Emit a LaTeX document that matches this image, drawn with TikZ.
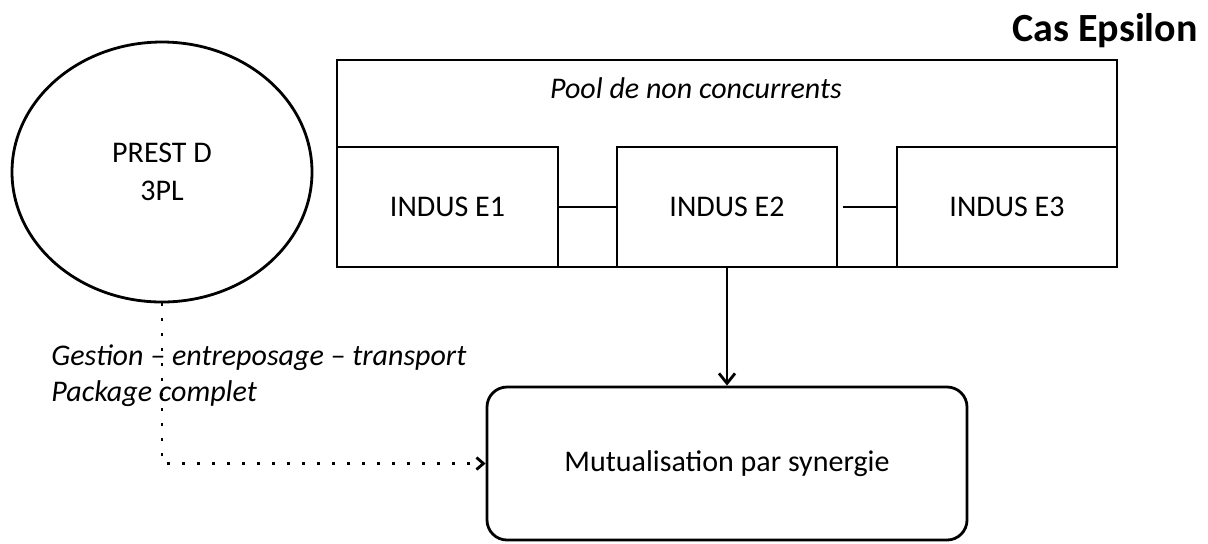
\documentclass[tikz,border=0pt]{standalone}
\usepackage{fontspec}
\setmainfont{Carlito}
\usetikzlibrary{shapes.geometric,arrows.meta}

\begin{document}
\begin{tikzpicture}[x=0.5pt,y=-0.5pt,line width=1.4pt,
        testo/.style={font=\fontsize{15}{18}\selectfont},
        indus/.style={testo,draw,rectangle,inner sep=0pt,minimum width=110pt,minimum height=60pt}]
        \useasboundingbox (0,0) rectangle (1208,543);

        %titolo
        \node (titolo) at (1199,31) [anchor=east,inner sep=0pt,font=\fontsize{20}{24}\selectfont\bfseries]{Cas Epsilon};

        %prestataire
        \node (prest) at (162,172) [draw,ellipse,inner sep=0pt,minimum width=150pt,minimum height=130pt,align=center,font=\fontsize{15}{19}\selectfont]{PREST D\\3PL};

        %pool e industriali
        \node (pool) at (727,163.5) [draw,rectangle,minimum width=390pt,minimum height=103.5pt]{};
        \node (pooltit) at (696,88) [font=\fontsize{15}{18}\selectfont\itshape]{Pool de non concurrents};
        \node (e1) at (447.5,207) [indus,minimum width=110.5pt]{INDUS E1};
        \node (e2) at (727,207) [indus]{INDUS E2};
        \node (e3) at (1007,207) [indus]{INDUS E3};
        \draw (e1.east)--(e2.west);
        \draw [shorten <=2.5pt](e2.east)--(e3.west);

        %mutualisation
        \node (mut) at (727,463.5) [testo,draw,rectangle,rounded corners=10pt,minimum width=240pt,minimum height=76.5pt]{Mutualisation par synergie};
        \draw [-{Straight Barb[length=5pt,width=8pt]}](e2.south)--(mut.north);

        %freccia tratteggiata e label servizi
        \draw [dash pattern=on 1.5pt off 6pt,-{Straight Barb[length=3.5pt,width=6pt]}](prest.south)|-(mut.west);
        \node (servizi) at (50,376) [anchor=west,inner sep=0pt,align=left,font=\fontsize{15}{18}\selectfont\itshape]{Gestion -- entreposage -- transport\\Package complet};

\end{tikzpicture}
\end{document}
